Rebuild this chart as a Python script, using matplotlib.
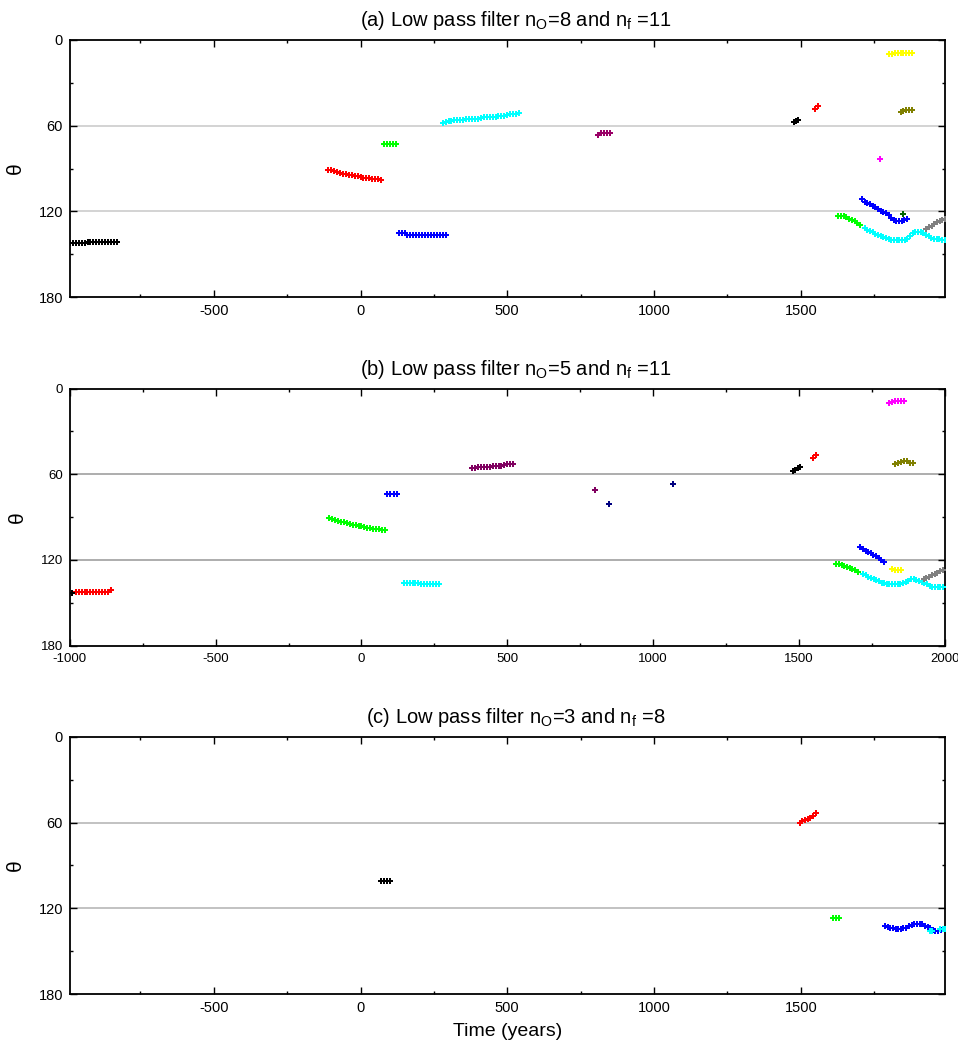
import matplotlib
matplotlib.use("Agg")
import matplotlib.pyplot as plt
from matplotlib.ticker import MultipleLocator

plt.rcParams['font.family'] = ['Liberation Sans', 'DejaVu Sans']
plt.rcParams['mathtext.fontset'] = 'custom'
plt.rcParams['mathtext.rm'] = 'Liberation Sans'
plt.rcParams['mathtext.it'] = 'Liberation Sans:italic'
plt.rcParams['axes.unicode_minus'] = False

# ---- (a) n_o=8, n_f=11 ----
a_black_t = [-990, -980, -970, -960, -950, -940, -930, -920, -910, -900, -890, -880, -870, -860, -850, -840, -830]
a_black_y = [142.3, 142.3, 142.3, 142.3, 142.3, 142.3, 141.2, 141.2, 141.2, 141.2, 141.2, 141.2, 141.2, 141.2, 141.2, 141.2, 141.2]
a_red_t = [-110, -100, -90, -80, -70, -60, -50, -40, -30, -20, -10, 0, 10, 20, 30, 40, 50, 60, 70]
a_red_y = [91.0, 91.0, 91.8, 92.5, 93.0, 93.5, 93.6, 94.2, 94.8, 95.0, 95.5, 96.0, 96.3, 96.6, 96.8, 97.0, 97.3, 97.6, 98.1]
a_green_t = [80, 90, 100, 110, 120]
a_green_y = [73.0, 73.0, 73.0, 73.0, 73.0]
a_blue_t = [130, 140, 150, 160, 170, 180, 190, 200, 210, 220, 230, 240, 250, 260, 270, 280, 290]
a_blue_y = [135.3, 135.3, 135.3, 136.4, 136.4, 136.4, 136.4, 136.4, 136.4, 136.4, 136.4, 136.4, 136.4, 136.4, 136.4, 136.4, 136.4]
a_cyan_t = [280, 290, 300, 310, 320, 330, 340, 350, 360, 370, 380, 390, 400, 410, 420, 430, 440, 450, 460, 470, 480, 490, 500, 510, 520, 530, 540]
a_cyan_y = [58.3, 57.5, 57.0, 56.5, 56.3, 56.3, 56.2, 56.0, 55.6, 55.5, 55.5, 55.4, 55.0, 54.8, 54.2, 53.8, 53.6, 53.6, 53.6, 53.0, 52.9, 52.9, 52.2, 52.0, 51.9, 51.5, 50.9]
a_maroon_t = [810, 820, 830, 840, 850]
a_maroon_y = [66.2, 65.2, 65.0, 65.0, 65.0]
a_black2_t = [1478, 1485, 1492]
a_black2_y = [57.3, 56.5, 55.7]
a_red2_t = [1550, 1560]
a_red2_y = [48.0, 46.0]
a_yellow_t = [1800, 1810, 1820, 1830, 1840, 1850, 1860, 1870, 1880]
a_yellow_y = [10.0, 9.7, 9.0, 8.9, 8.9, 8.9, 8.9, 8.9, 8.9]
a_olive_t = [1840, 1850, 1860, 1870, 1880]
a_olive_y = [50.2, 49.8, 49.2, 49.0, 49.0]
a_magenta_t = [1771]
a_magenta_y = [83.2]
a_dkgreen_t = [1849]
a_dkgreen_y = [121.9]
a_blue2_t = [1709, 1718, 1727, 1736, 1745, 1754, 1763, 1772, 1781, 1790, 1799, 1808, 1817, 1826, 1835, 1844, 1853, 1862]
a_blue2_y = [111.0, 113.1, 114.2, 114.9, 115.9, 116.9, 118.0, 119.4, 120.3, 121.2, 122.6, 124.5, 125.9, 126.4, 126.4, 126.4, 126.1, 125.0]
a_green2_t = [1627, 1636, 1646, 1655, 1665, 1674, 1684, 1693, 1703]
a_green2_y = [123.1, 123.1, 123.3, 124.0, 125.0, 125.9, 126.6, 128.2, 129.4]
a_cyan2_t = [1718, 1727, 1736, 1745, 1754, 1763, 1772, 1781, 1790, 1800, 1809, 1818, 1827, 1836, 1845, 1854,
             1863, 1872, 1881, 1890, 1900, 1909, 1918, 1927, 1936, 1945, 1954, 1963, 1972, 1981, 1990]
a_cyan2_y = [131.7, 132.9, 133.6, 134.5, 135.5, 136.6, 137.3, 137.6, 138.3, 139.2, 139.7, 140.1, 140.1, 140.1, 140.1, 139.9,
             139.2, 137.3, 135.2, 134.1, 134.1, 134.3, 135.2, 136.2, 137.3, 138.3, 139.0, 139.4, 139.4, 139.7, 139.9]
a_gray_t = [1928, 1937, 1946, 1955, 1964, 1973, 1982, 1990]
a_gray_y = [132.4, 131.2, 130.1, 128.9, 127.7, 127.0, 126.3, 125.6]

# ---- (b) n_o=5, n_f=11 ----
b_black_t = [-992]
b_black_y = [142.9]
b_red_t = [-980, -970, -960, -950, -940, -930, -920, -910, -900, -890, -880, -870, -860]
b_red_y = [142.2, 142.2, 142.2, 142.2, 142.2, 142.2, 142.2, 142.2, 142.2, 142.2, 142.2, 142.2, 140.8]
b_green_t = [-110, -100, -90, -80, -70, -60, -50, -40, -30, -20, -10, 0, 10, 20, 30, 40, 50, 60, 70, 80]
b_green_y = [90.9, 91.5, 92.1, 92.7, 93.3, 93.7, 94.2, 94.7, 95.2, 95.6, 96.1, 96.5, 97.0, 97.4, 97.7, 98.0, 98.2, 98.4, 98.7, 99.1]
b_blue_t = [87, 99, 111, 123]
b_blue_y = [73.9, 73.9, 73.9, 73.9]
b_cyan_t = [145, 155, 165, 175, 185, 195, 205, 215, 225, 235, 245, 255, 265]
b_cyan_y = [135.9, 135.9, 135.9, 135.9, 135.9, 135.9, 137.1, 137.1, 137.1, 137.1, 137.1, 137.1, 137.1]
b_maroon_t = [380, 390, 400, 410, 420, 430, 440, 450, 460, 470, 480, 490, 500, 510, 520]
b_maroon_y = [55.9, 55.3, 54.8, 54.8, 54.8, 54.8, 54.6, 54.1, 54.1, 54.1, 54.1, 53.5, 52.9, 52.9, 52.9]
b_maroon2_t = [800]
b_maroon2_y = [70.9]
b_navy_t = [850, 1070]
b_navy_y = [80.9, 66.9]
b_black2_t = [1480, 1488, 1496, 1503]
b_black2_y = [58.0, 57.0, 55.8, 54.8]
b_red2_t = [1548, 1560]
b_red2_y = [48.7, 46.6]
b_magenta_t = [1810, 1820, 1830, 1840, 1850, 1860]
b_magenta_y = [10.0, 9.2, 8.9, 8.9, 8.9, 8.9]
b_olive_t = [1830, 1840, 1850, 1860, 1870, 1880, 1890]
b_olive_y = [52.9, 52.2, 51.5, 50.6, 50.9, 51.8, 52.0]
b_blue2_t = [1711, 1720, 1729, 1738, 1747, 1756, 1765, 1774, 1782, 1791]
b_blue2_y = [110.8, 112.6, 113.8, 114.7, 115.4, 116.3, 117.3, 118.5, 120.1, 121.3]
b_yellow_t = [1820, 1830, 1840, 1850]
b_yellow_y = [126.1, 127.0, 127.3, 127.3]
b_green2_t = [1629, 1638, 1647, 1656, 1665, 1675, 1684, 1693, 1702]
b_green2_y = [122.9, 122.9, 123.6, 124.3, 124.8, 125.5, 126.4, 127.3, 128.2]
b_cyan2_t = [1720, 1729, 1738, 1747, 1757, 1766, 1775, 1784, 1793, 1802, 1811, 1821, 1830, 1839, 1848, 1857,
             1866, 1875, 1885, 1894, 1903, 1912, 1921, 1930, 1939, 1949, 1958, 1967, 1976, 1985, 1994]
b_cyan2_y = [130.1, 130.8, 131.7, 132.4, 133.1, 134.1, 135.0, 135.9, 136.4, 136.9, 136.9, 136.9, 136.9, 136.9, 136.6, 135.9,
             135.2, 134.5, 133.4, 133.4, 134.1, 134.5, 135.5, 136.4, 137.1, 138.0, 138.7, 138.9, 139.2, 139.2, 139.2]
b_gray_t = [1928, 1937, 1947, 1956, 1966, 1975, 1985, 1994]
b_gray_y = [133.6, 132.6, 131.7, 130.8, 129.8, 128.9, 128.0, 127.1]

# ---- (c) n_o=3, n_f=8 ----
c_black_t = [70, 80, 90, 100]
c_black_y = [101.2, 101.2, 101.2, 101.2]
c_red_t = [1496, 1505, 1514, 1523, 1533, 1542, 1551]
c_red_y = [60.2, 59.0, 58.3, 57.6, 56.7, 55.5, 53.6]
c_green_t = [1610, 1620, 1630]
c_green_y = [127.1, 127.1, 127.1]
c_blue_t = [1787, 1796, 1805, 1814, 1823, 1832, 1841, 1850, 1860, 1869, 1878, 1887, 1896, 1905, 1914, 1923,
            1932, 1941, 1950, 1959, 1969, 1978]
c_blue_y = [132.2, 133.1, 133.8, 134.0, 134.3, 134.8, 134.3, 133.8, 133.6, 132.4, 131.5, 131.0, 131.0, 131.0, 131.2, 132.2,
            133.1, 134.0, 135.0, 135.7, 136.1, 135.4]
c_cyan_t = [1940, 1948, 1975, 1983, 1990]
c_cyan_y = [135.7, 135.7, 134.8, 134.8, 134.8]

MAROON = '#990066'
NAVY = '#000080'

panels = [
    dict(title=r'(a) Low pass filter n$_{\mathrm{O}}$=8 and n$_{\mathrm{f}}$ =11',
         xlim=(-990, 1990), grid='#cccccc', tsize=10.5, rect=[0.073, 0.717, 0.913, 0.245],
         series=[(a_black_t, a_black_y, 'black'), (a_red_t, a_red_y, 'red'), (a_green_t, a_green_y, 'lime'),
                 (a_blue_t, a_blue_y, 'blue'), (a_cyan_t, a_cyan_y, 'cyan'), (a_maroon_t, a_maroon_y, MAROON),
                 (a_black2_t, a_black2_y, 'black'), (a_red2_t, a_red2_y, 'red'),
                 (a_yellow_t, a_yellow_y, 'yellow'), (a_olive_t, a_olive_y, 'olive'),
                 (a_magenta_t, a_magenta_y, 'magenta'), (a_green2_t, a_green2_y, 'lime'),
                 (a_cyan2_t, a_cyan2_y, 'cyan'), (a_blue2_t, a_blue2_y, 'blue'),
                 (a_dkgreen_t, a_dkgreen_y, '#006400'), (a_gray_t, a_gray_y, 'gray')]),
    dict(title=r'(b) Low pass filter n$_{\mathrm{O}}$=5 and n$_{\mathrm{f}}$ =11',
         xlim=(-1000, 2000), grid='#a0a0a0', tsize=9.5, rect=[0.073, 0.385, 0.913, 0.245],
         series=[(b_red_t, b_red_y, 'red'), (b_black_t, b_black_y, 'black'), (b_green_t, b_green_y, 'lime'),
                 (b_blue_t, b_blue_y, 'blue'), (b_cyan_t, b_cyan_y, 'cyan'), (b_maroon_t, b_maroon_y, '#800060'),
                 (b_maroon2_t, b_maroon2_y, '#800060'), (b_navy_t, b_navy_y, NAVY),
                 (b_black2_t, b_black2_y, 'black'), (b_red2_t, b_red2_y, 'red'),
                 (b_magenta_t, b_magenta_y, 'magenta'), (b_olive_t, b_olive_y, 'olive'),
                 (b_green2_t, b_green2_y, 'lime'), (b_cyan2_t, b_cyan2_y, 'cyan'),
                 (b_blue2_t, b_blue2_y, 'blue'), (b_yellow_t, b_yellow_y, 'yellow'), (b_gray_t, b_gray_y, 'gray')]),
    dict(title=r'(c) Low pass filter n$_{\mathrm{O}}$=3 and n$_{\mathrm{f}}$ =8',
         xlim=(-990, 1990), grid='#b8b8b8', tsize=10.5, rect=[0.073, 0.0533, 0.913, 0.245],
         series=[(c_black_t, c_black_y, 'black'), (c_red_t, c_red_y, 'red'), (c_green_t, c_green_y, 'lime'),
                 (c_blue_t, c_blue_y, 'blue'), (c_cyan_t, c_cyan_y, 'cyan')]),
]

fig = plt.figure(figsize=(9.58, 10.5), dpi=100)

for p in panels:
    ax = fig.add_axes(p['rect'])
    for t, y, col in p['series']:
        ax.plot(t, y, ls='none', marker='P', ms=3.8, mew=0, color=col, zorder=3)
    for g in (60, 120):
        ax.axhline(g, color=p['grid'], lw=1.2, zorder=1)
    ax.set_xlim(*p['xlim'])
    ax.set_ylim(180, 0)
    ax.xaxis.set_major_locator(MultipleLocator(500))
    ax.xaxis.set_minor_locator(MultipleLocator(250))
    ax.yaxis.set_major_locator(MultipleLocator(60))
    ax.yaxis.set_minor_locator(MultipleLocator(30))
    ax.tick_params(which='both', direction='in', top=True, right=True, labelsize=p['tsize'], width=1)
    ax.tick_params(which='major', length=5, pad=5)
    ax.tick_params(which='minor', length=2.5)
    for s in ax.spines.values():
        s.set_linewidth(1.3)
    ax.set_ylabel('θ', fontsize=15, labelpad=10)
    ax.set_title(p['title'], fontsize=14.5, pad=10, x=0.51)

ax.set_xlabel('Time (years)', fontsize=14, labelpad=6)

fig.savefig('out.png', dpi=100)
